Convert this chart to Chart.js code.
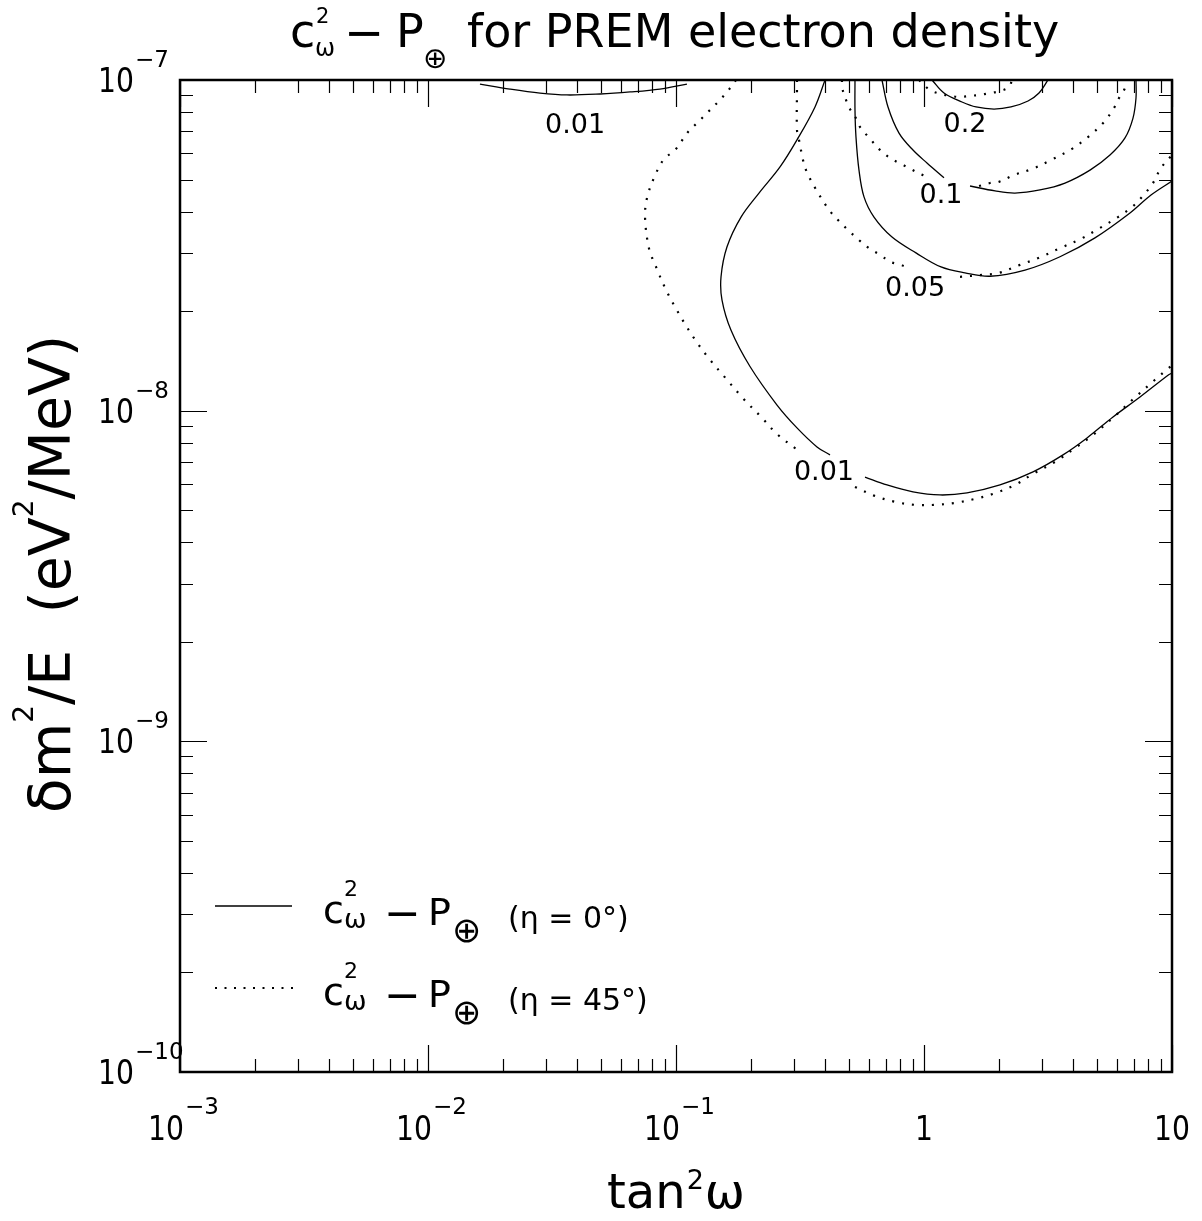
<!DOCTYPE html>
<html lang="en">
<head>
<meta charset="UTF-8">
<title>c2 - P for PREM electron density</title>
<script src="https://cdn.jsdelivr.net/npm/chart.js@4.4.0/dist/chart.umd.min.js"></script>
<style>
  body { margin: 0; background: #fff; }
  canvas { display: block; }
</style>
</head>
<body>
<canvas id="chart" width="1202" height="1221"></canvas>
<script>
// axis ranges and decade ticks
const xMin = 1e-3, xMax = 10;
const yMin = 1e-10, yMax = 1e-7;
const xDecades = [1e-3, 1e-2, 1e-1, 1, 10];
const xTickBase = ['10', '10', '10', '1', '10'];
const xTickExp = ['\u22123', '\u22122', '\u22121', '', ''];
const yDecades = [1e-10, 1e-9, 1e-8, 1e-7];
const yTickBase = ['10', '10', '10', '10'];
const yTickExp = ['\u221210', '\u22129', '\u22128', '\u22127'];

// eta = 0 deg (solid) contours, null = break for the contour label
const solidTopX = [0.0162, 0.0214, 0.0283, 0.0363, 0.0494, 0.0653, 0.0861, 0.1107];
const solidTopY = [9.72e-8, 9.39e-8, 9.13e-8, 9.01e-8, 9.07e-8, 9.20e-8, 9.39e-8, 9.72e-8];

const solid001X = [0.399, 0.3635, 0.3075, 0.2627, 0.2161, 0.1829, 0.1606, 0.1519, 0.1533, 0.1667, 0.1988, 0.2555, 0.3075, 0.3703, 0.4178, 0.5, 0.5782, 0.7093, 0.9028, 1.160, 1.491, 2.025, 2.751, 3.635, 4.543, 5.782, 7.430, 9.636, 10];
const solid001Y = [1.0e-7, 8.29e-8, 6.59e-8, 5.46e-8, 4.55e-8, 3.85e-8, 3.13e-8, 2.54e-8, 2.16e-8, 1.75e-8, 1.36e-8, 1.04e-8, 8.87e-9, 7.77e-9, 7.35e-9, null, 6.30e-9, 5.96e-9, 5.68e-9, 5.56e-9, 5.64e-9, 5.96e-9, 6.53e-9, 7.35e-9, 8.27e-9, 9.57e-9, 1.10e-8, 1.28e-8, 1.30e-8];

const solid005X = [0.5269, 0.5269, 0.5318, 0.5468, 0.5729, 0.6286, 0.7430, 0.9284, 1.171, 1.463, 1.845, 2.555, 3.535, 4.891, 6.770, 8.228, 10];
const solid005Y = [1.0e-7, 8.11e-8, 6.72e-8, 5.34e-8, 4.43e-8, 3.85e-8, 3.35e-8, 3.00e-8, 2.72e-8, 2.61e-8, 2.55e-8, 2.66e-8, 2.92e-8, 3.33e-8, 3.96e-8, 4.49e-8, 4.95e-8];

const solid01X = [0.677, 0.7159, 0.793, 0.9028, 1.028, 1.204, 1.35, 1.533, 1.933, 2.327, 2.935, 3.703, 4.671, 5.623, 6.464, 6.962, 7.159, 7.159];
const solid01Y = [1.0e-7, 8.29e-8, 6.91e-8, 6.14e-8, 5.61e-8, 5.06e-8, null, 4.78e-8, 4.62e-8, 4.55e-8, 4.65e-8, 4.88e-8, 5.34e-8, 5.93e-8, 6.68e-8, 7.67e-8, 8.82e-8, 1.0e-7];

const solid02X = [1.077, 1.204, 1.423, 1.621, 1.916, 2.243, 2.627, 2.909, 3.162];
const solid02Y = [1.0e-7, 9.13e-8, 8.58e-8, 8.29e-8, 8.17e-8, 8.29e-8, 8.64e-8, 9.13e-8, 1.0e-7];

// eta = 45 deg (dotted) contours
const dot001X = [0.1746, 0.1606, 0.1477, 0.1346, 0.1227, 0.1118, 0.0991, 0.0895, 0.0815, 0.0764, 0.0750, 0.0778, 0.0831, 0.0911, 0.0991, 0.1077, 0.1193, 0.1346, 0.1591, 0.1863, 0.2222, 0.2555, 0.3047, 0.4, 0.5269, 0.6344, 0.7640, 0.9199, 1.108, 1.334, 1.606, 1.897, 2.327, 2.751, 3.375, 4.064, 4.802, 5.891, 7.028, 8.542, 9.636, 10];
const dot001Y = [1.0e-7, 9.20e-8, 8.58e-8, 8.00e-8, 7.46e-8, 6.96e-8, 6.14e-8, 5.77e-8, 5.06e-8, 4.40e-8, 3.85e-8, 3.10e-8, 2.72e-8, 2.32e-8, 2.06e-8, 1.85e-8, 1.64e-8, 1.45e-8, 1.25e-8, 1.09e-8, 9.51e-9, 8.50e-9, 7.66e-9, null, 5.88e-9, 5.52e-9, 5.30e-9, 5.19e-9, 5.19e-9, 5.26e-9, 5.41e-9, 5.60e-9, 5.96e-9, 6.44e-9, 7.00e-9, 7.71e-9, 8.44e-9, 9.64e-9, 1.09e-8, 1.24e-8, 1.34e-8, 1.37e-8];

const dot005X = [0.3075, 0.3075, 0.3075, 0.3133, 0.3252, 0.3344, 0.3635, 0.4139, 0.4500, 0.4936, 0.5468, 0.6000, 0.6646, 0.7293, 0.8076, 0.8781, 1.1, 1.397, 1.682, 2.006, 2.438, 2.909, 3.535, 4.297, 5.029, 6.057, 6.898, 7.568, 8.384, 9.028, 10];
const dot005Y = [1.0e-7, 9.46e-8, 7.06e-8, 6.59e-8, 5.73e-8, 5.34e-8, 4.72e-8, 4.05e-8, 3.77e-8, 3.52e-8, 3.28e-8, 3.10e-8, 2.96e-8, 2.82e-8, 2.76e-8, 2.68e-8, null, 2.54e-8, 2.57e-8, 2.61e-8, 2.76e-8, 2.90e-8, 3.10e-8, 3.31e-8, 3.54e-8, 3.85e-8, 4.13e-8, 4.43e-8, 4.88e-8, 5.42e-8, 5.93e-8];

const dot01X = [0.4671, 0.4671, 0.4847, 0.5029, 0.5368, 0.5519, 0.6114, 0.6646, 0.7293, 0.793, 0.870, 0.9636, 1.057, 1.3, 1.667, 1.845, 2.006, 2.306, 2.726, 3.252, 3.953, 4.585, 5.318, 5.836, 6.114, 6.464, 6.525];
const dot01Y = [1.0e-7, 9.52e-8, 8.70e-8, 8.17e-8, 7.57e-8, 7.21e-8, 6.59e-8, 6.14e-8, 5.81e-8, 5.61e-8, 5.42e-8, 5.20e-8, 5.06e-8, null, 4.78e-8, 4.88e-8, 4.92e-8, 5.16e-8, 5.38e-8, 5.73e-8, 6.19e-8, 6.72e-8, 7.46e-8, 8.23e-8, 8.82e-8, 9.46e-8, 1.0e-7];

const dot02X = [0.955, 1.057, 1.171, 1.285, 1.397, 1.519, 1.667, 1.845, 2.025, 2.201, 2.264];
const dot02Y = [1.0e-7, 9.33e-8, 9.07e-8, 8.95e-8, 8.88e-8, 8.95e-8, 9.01e-8, 9.13e-8, 9.26e-8, 9.52e-8, 1.0e-7];

// contour level labels
const levelText = ['0.01', '0.2', '0.1', '0.05', '0.01'];
const levelX = [0.0392, 1.463, 1.171, 0.920, 0.395];
const levelY = [7.41e-8, 7.46e-8, 4.55e-8, 2.38e-8, 6.62e-9];

const FONT = "'DejaVu Sans', 'Liberation Sans', sans-serif";

function pts(xs, ys) {
  return xs.map((x, i) => ({ x: x, y: ys[i] }));
}

function solid(xs, ys) {
  return { data: pts(xs, ys), showLine: true, borderColor: '#000', borderWidth: 1.3,
           pointRadius: 0, tension: 0.35, spanGaps: false };
}
function dotted(xs, ys) {
  return { data: pts(xs, ys), showLine: true, borderColor: '#000', borderWidth: 2.2,
           borderDash: [2, 8], pointRadius: 0, tension: 0.35, spanGaps: false };
}

function put(ctx, s, x, y, size, align, sx) {
  ctx.save();
  ctx.font = size + 'px ' + FONT;
  ctx.textAlign = align || 'left';
  ctx.textBaseline = 'alphabetic';
  ctx.translate(x, y);
  ctx.scale(sx || 1, 1);
  ctx.fillText(s, 0, 0);
  ctx.restore();
}
function textW(ctx, s, size, sx) {
  ctx.save();
  ctx.font = size + 'px ' + FONT;
  const w = ctx.measureText(s).width * (sx || 1);
  ctx.restore();
  return w;
}

const decorations = {
  id: 'decorations',
  afterDraw(chart) {
    const ctx = chart.ctx;
    const xs = chart.scales.x, ys = chart.scales.y;
    const a = chart.chartArea;
    const MAJ = 27, MIN = 13;
    ctx.save();
    ctx.fillStyle = '#000';
    ctx.strokeStyle = '#000';

    // ticks on all four sides
    ctx.lineWidth = 1.2;
    ctx.beginPath();
    for (let i = 0; i < xDecades.length; i++) {
      for (let k = 1; k <= 9; k++) {
        const v = xDecades[i] * k;
        if (v > xMax * 1.0001) break;
        const px = Math.round(xs.getPixelForValue(v)) + 0.5;
        const len = k === 1 ? MAJ : MIN;
        ctx.moveTo(px, a.bottom); ctx.lineTo(px, a.bottom - len);
        ctx.moveTo(px, a.top); ctx.lineTo(px, a.top + len);
      }
    }
    for (let i = 0; i < yDecades.length; i++) {
      for (let k = 1; k <= 9; k++) {
        const v = yDecades[i] * k;
        if (v > yMax * 1.0001) break;
        const py = Math.round(ys.getPixelForValue(v)) + 0.5;
        const len = k === 1 ? MAJ : MIN;
        ctx.moveTo(a.left, py); ctx.lineTo(a.left + len, py);
        ctx.moveTo(a.right, py); ctx.lineTo(a.right - len, py);
      }
    }
    ctx.stroke();

    // frame
    ctx.lineWidth = 2.5;
    ctx.strokeRect(a.left, a.top, a.right - a.left, a.bottom - a.top);

    // x tick labels
    xDecades.forEach((v, i) => {
      const px = xs.getPixelForValue(v);
      const wb = textW(ctx, xTickBase[i], 34, 0.83);
      if (xTickExp[i]) {
        const we = textW(ctx, xTickExp[i], 23);
        const start = px + 4 - (wb + we + 2) / 2;
        put(ctx, xTickBase[i], start, 1140, 34, 'left', 0.83);
        put(ctx, xTickExp[i], start + wb + 1, 1114, 23);
      } else {
        put(ctx, xTickBase[i], px - wb / 2, 1140, 34, 'left', 0.83);
      }
    });

    // y tick labels
    yDecades.forEach((v, i) => {
      const py = ys.getPixelForValue(v);
      put(ctx, yTickBase[i], 134, py + 12, 34, 'right', 0.83);
      put(ctx, yTickExp[i], 135, py - 13, 23);
    });

    // contour level labels
    levelText.forEach((t, i) => {
      put(ctx, t, xs.getPixelForValue(levelX[i]), ys.getPixelForValue(levelY[i]) + 10, 27, 'center');
    });

    // title
    put(ctx, 'c', 290, 47, 46);
    put(ctx, '2', 316, 23, 21);
    put(ctx, '\u03c9', 315, 56, 24);
    put(ctx, '\u2212', 344, 49, 48);
    put(ctx, 'P', 396, 47, 46);
    put(ctx, '\u2295', 423, 68, 29);
    put(ctx, 'for PREM electron density', 467, 47, 46);

    // x axis title
    const cx = (a.left + a.right) / 2;
    const w1 = textW(ctx, 'tan', 48), w2 = textW(ctx, '2', 27), w3 = textW(ctx, '\u03c9', 48);
    const sx0 = cx - (w1 + w2 + w3 + 2) / 2;
    put(ctx, 'tan', sx0, 1208, 48);
    put(ctx, '2', sx0 + w1 + 1, 1189, 27);
    put(ctx, '\u03c9', sx0 + w1 + w2 + 2, 1208, 48);

    // y axis title (rotated)
    const parts = [['\u03b4m', 57, 0], ['2', 28, -37], ['/E  (eV', 57, 0], ['2', 28, -37], ['/MeV)', 57, 0]];
    let total = 0;
    parts.forEach(p => { total += textW(ctx, p[0], p[1]); });
    ctx.save();
    ctx.translate(70, 574);
    ctx.rotate(-Math.PI / 2);
    let ox = -total / 2;
    parts.forEach(p => {
      put(ctx, p[0], ox, p[2], p[1]);
      ox += textW(ctx, p[0], p[1]);
    });
    ctx.restore();

    // legend
    const rows = ['(\u03b7 = 0\u00b0)', '(\u03b7 = 45\u00b0)'];
    rows.forEach((lab, r) => {
      const dy = r * 82;
      ctx.beginPath();
      if (r === 0) {
        ctx.lineWidth = 1.3;
        ctx.setLineDash([]);
        ctx.moveTo(215, 906); ctx.lineTo(292, 906);
      } else {
        ctx.lineWidth = 2.2;
        ctx.setLineDash([2, 7.5]);
        ctx.moveTo(215, 988); ctx.lineTo(295, 988);
      }
      ctx.stroke();
      ctx.setLineDash([]);
      put(ctx, 'c', 323, 923 + dy, 38);
      put(ctx, '2', 344, 896 + dy, 22);
      put(ctx, '\u03c9', 344, 928 + dy, 27);
      put(ctx, '\u2212', 384, 928 + dy, 44);
      put(ctx, 'P', 428, 925 + dy, 38);
      put(ctx, '\u2295', 452, 942 + dy, 35);
      put(ctx, lab, 508, 928 + dy, 30);
    });
    ctx.restore();
  }
};

new Chart(document.getElementById('chart'), {
  type: 'scatter',
  data: {
    datasets: [
      solid(solidTopX, solidTopY),
      solid(solid001X, solid001Y),
      solid(solid005X, solid005Y),
      solid(solid01X, solid01Y),
      solid(solid02X, solid02Y),
      dotted(dot001X, dot001Y),
      dotted(dot005X, dot005Y),
      dotted(dot01X, dot01Y),
      dotted(dot02X, dot02Y)
    ]
  },
  options: {
    responsive: false,
    animation: false,
    devicePixelRatio: 1,
    layout: { padding: { left: 180, top: 80, right: 30, bottom: 149 } },
    elements: { line: { capBezierPoints: false } },
    plugins: { legend: { display: false }, tooltip: { enabled: false } },
    scales: {
      x: { type: 'logarithmic', min: xMin, max: xMax, display: false },
      y: { type: 'logarithmic', min: yMin, max: yMax, display: false }
    }
  },
  plugins: [decorations]
});
</script>
</body>
</html>
